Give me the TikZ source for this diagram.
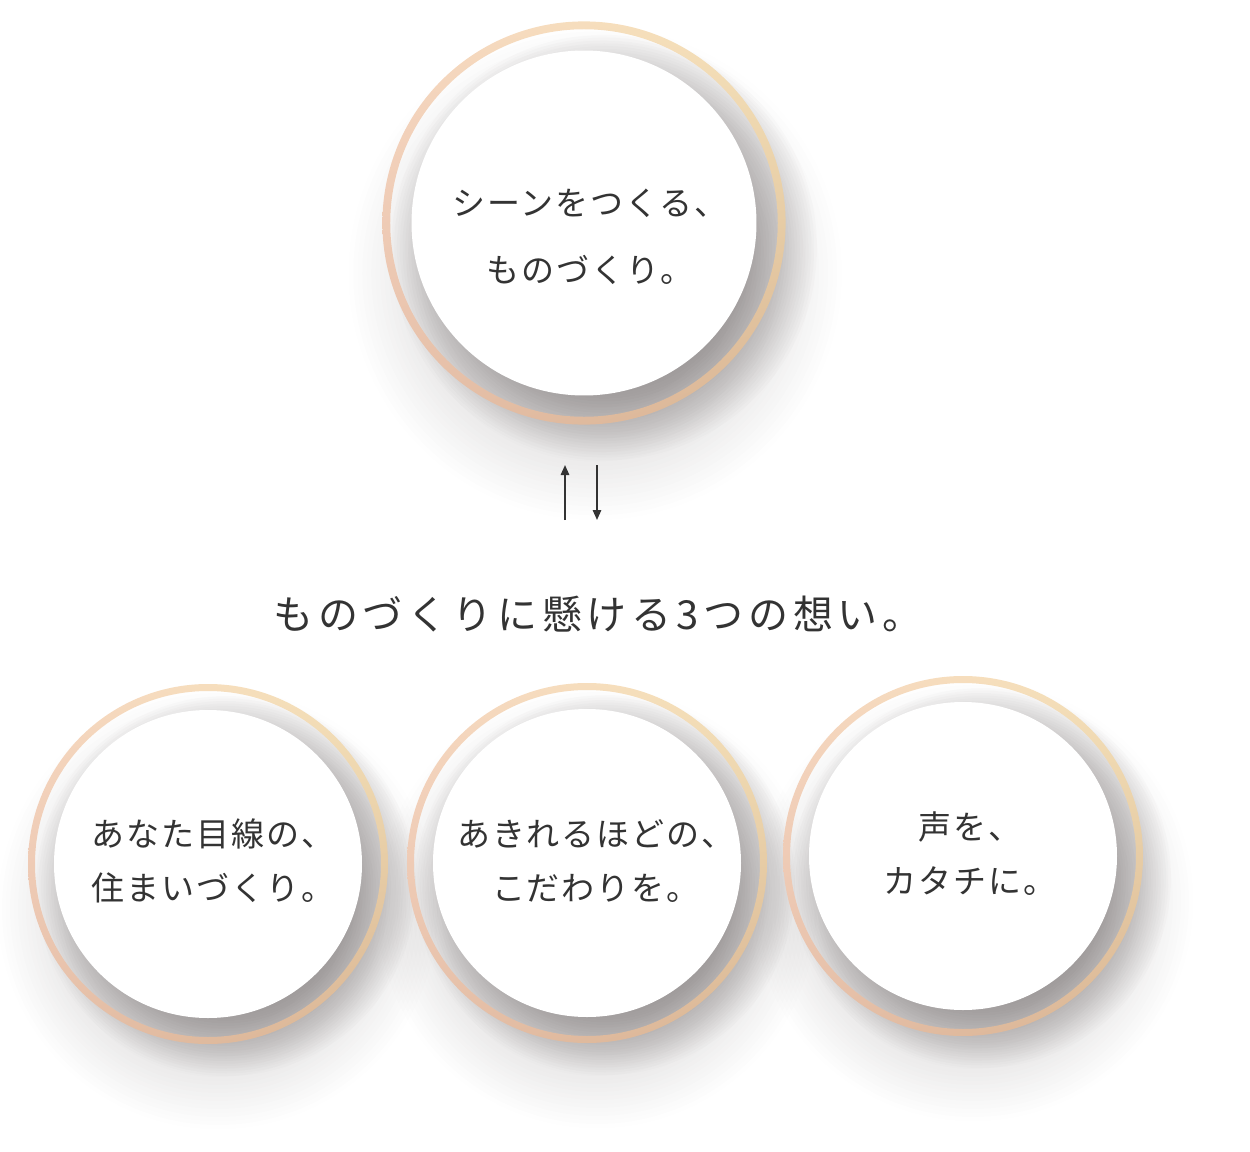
\documentclass[tikz,border=0pt]{standalone}
\usepackage{fontspec}
\newfontfamily\jpfont[LetterSpace=6]{Noto Sans CJK JP}
\newfontfamily\jptitlefont[LetterSpace=12]{Noto Sans CJK JP}
\usetikzlibrary{arrows.meta}
\usetikzlibrary{shadings}
\definecolor{ink}{HTML}{333333}
\definecolor{shadowgray}{HTML}{4A4242}
\definecolor{ringul}{HTML}{F7D8C2}
\definecolor{ringur}{HTML}{F5E3B8}
\definecolor{ringll}{HTML}{E6BEA9}
\definecolor{ringlr}{HTML}{D8B592}
\tikzstyle{scheme}=[x=0.5pt, y=-0.5pt]
\tikzstyle{halo}=[fill=shadowgray, opacity=0.018]
\tikzstyle{farhalo}=[fill=shadowgray, opacity=0.006]
\tikzstyle{ring}=[upper left=ringul, upper right=ringur, lower left=ringll, lower right=ringlr, even odd rule]
\tikzstyle{disc}=[fill=white]
\tikzstyle{phrase}=[inner sep=0pt, align=center, text=ink, font=\jpfont\fontsize{16.5pt}{27pt}\selectfont]
\tikzstyle{headline}=[inner sep=0pt, text=ink, font=\jptitlefont\fontsize{20pt}{24pt}\selectfont]
\tikzstyle{flow}=[-{Triangle[length=5pt, width=4.2pt]}, draw=ink, line width=0.9pt]
\begin{document}
\begin{tikzpicture}[scheme]
	\useasboundingbox (0,0) rectangle (1250,1152);
	%The soft shadows
	\foreach \cx/\cy/\s in {584/223/1.12, 208/864/1, 587/863/1, 963/856/1} {
		\foreach \k in {0,...,25}
			\fill[farhalo] (\cx+10*\s, \cy+45*\s) circle ({\s*(120+4*\k)});
		\foreach \k in {0,...,31}
			\fill[halo] (\cx+18*\s, \cy+22*\s) circle ({\s*(112.5+2.5*\k)});
	}
	
	%The rings and the white discs
	\foreach \cx/\cy/\s in {584/223/1.12, 208/864/1, 587/863/1, 963/856/1} {
		\shade[ring] (\cx,\cy) circle ({180*\s}) (\cx,\cy) circle ({173*\s});
		\fill[disc] (\cx,\cy) circle ({154*\s});
	}
	
	%The top circle
	\node[phrase, font=\jpfont\fontsize{16.5pt}{33.5pt}\selectfont] (scene) at (590,237) {シーンをつくる、\\ものづくり。};
	
	%The arrows
	\coordinate (upfoot) at (565,520);
	\coordinate (uphead) at (565,465);
	\coordinate (downfoot) at (597,465);
	\coordinate (downhead) at (597,520);
	\draw[flow] (upfoot) -- (uphead);
	\draw[flow] (downfoot) -- (downhead);
	
	%The headline
	\node[headline] (title) at (598,614) {ものづくりに懸ける3つの想い。};
	
	%The three circles below
	\node[phrase] (sumai) at (213,861) {あなた目線の、\\住まいづくり。};
	\node[phrase] (kodawari) at (596,861) {あきれるほどの、\\こだわりを。};
	\node[phrase] (koe) at (970,854) {声を、\\カタチに。};
\end{tikzpicture}
\end{document}
